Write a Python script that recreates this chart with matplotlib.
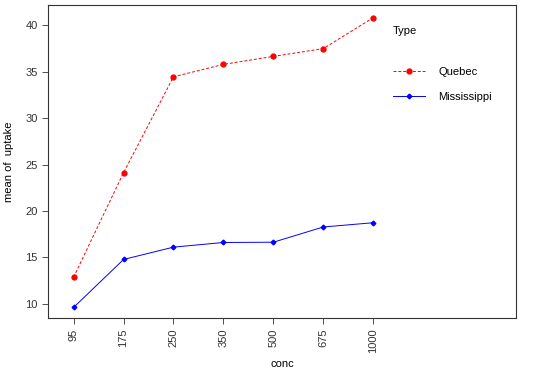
import matplotlib.pyplot as plt

conc = ["95", "175", "250", "350", "500", "675", "1000"]
quebec = [12.86, 24.13, 34.46, 35.80, 36.66, 37.50, 40.83]
mississippi = [9.60, 14.77, 16.10, 16.60, 16.63, 18.27, 18.73]

plt.rcParams["font.family"] = ["Liberation Sans", "DejaVu Sans"]

fig = plt.figure(figsize=(5.54, 3.71), dpi=100)
ax = fig.add_axes([48 / 554, 1 - 318 / 371, (516 - 48) / 554, (318 - 5) / 371])

x = list(range(1, len(conc) + 1))
ax.plot(x, quebec, color="red", linestyle=(0, (3, 2)), linewidth=0.7,
        marker="o", markersize=3.5, label="Quebec")
ax.plot(x, mississippi, color="blue", linestyle="-", linewidth=0.7,
        marker="D", markersize=2.4, label="Mississippi")

ax.set_xlim(0.487, 9.86)
ax.set_ylim(8.46, 42.2)
ax.set_xticks(x)
ax.set_xticklabels(conc, rotation=90)
ax.set_yticks([10, 15, 20, 25, 30, 35, 40])
ax.tick_params(labelsize=8, colors="#333333", length=4, width=0.6)
for s in ax.spines.values():
    s.set_linewidth(0.8)
    s.set_color("#333333")

ax.set_xlabel("conc", fontsize=8, labelpad=4)
ax.set_ylabel("mean of  uptake", fontsize=8, labelpad=8)

leg = ax.legend(title="Type", frameon=False, fontsize=8, title_fontsize=8,
                loc="upper left", bbox_to_anchor=(0.715, 0.965),
                handlelength=2.9, handletextpad=1.2, labelspacing=1.4,
                alignment="left")
leg._legend_box.sep = 22

fig.savefig("out.png", dpi=100)
